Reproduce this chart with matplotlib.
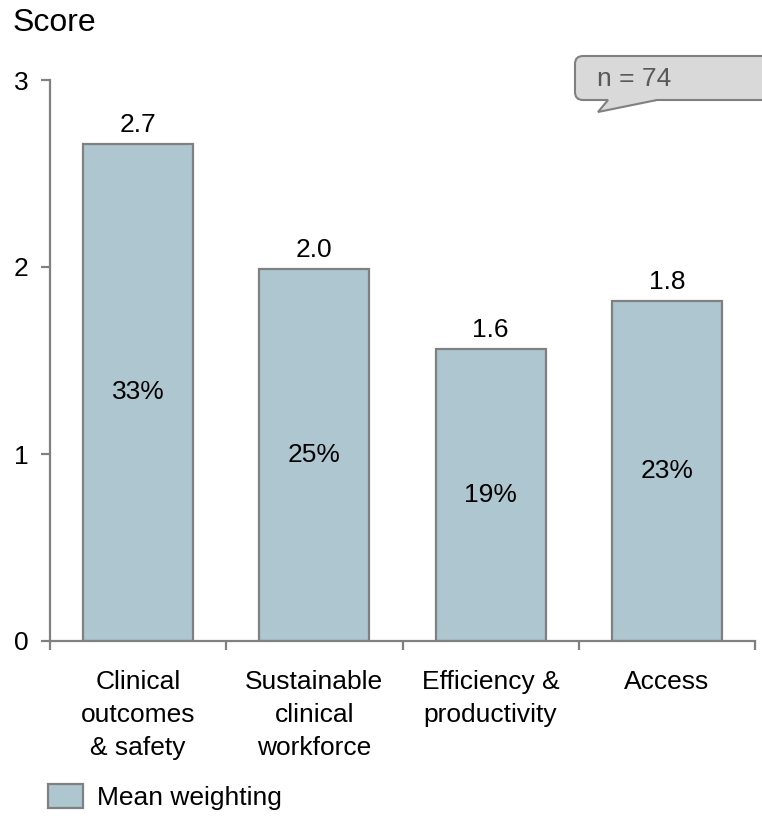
import matplotlib.pyplot as plt
import numpy as np
from matplotlib.path import Path
from matplotlib.patches import PathPatch

plt.rcParams['font.family'] = ['Liberation Sans', 'DejaVu Sans']

categories = ['Clinical\noutcomes\n& safety', 'Sustainable\nclinical\nworkforce',
              'Efficiency &\nproductivity', 'Access']
scores = [2.66, 1.99, 1.56, 1.82]
score_labels = ['2.7', '2.0', '1.6', '1.8']
shares = ['33%', '25%', '19%', '23%']
legend_label = 'Mean weighting'
n_text = 'n = 74'

W, H = 762, 816
fig = plt.figure(figsize=(W / 100, H / 100), dpi=100)
ax = fig.add_axes([50 / W, 1 - 641 / H, 705 / W, 561 / H])

grey = '#808080'
barcol = '#aec6cf'
fs = 19

x = np.arange(len(categories))
bars = ax.bar(x, scores, width=0.625, color=barcol, edgecolor=grey, linewidth=1.6,
              label=legend_label)

for xi, s, lab, pct in zip(x, scores, score_labels, shares):
    ax.annotate(lab, (xi, s), xytext=(0, 5), textcoords='offset points',
                ha='center', va='bottom', fontsize=fs)
    ax.text(xi, s / 2, pct, ha='center', va='center', fontsize=fs)

ax.set_xlim(-0.5, 3.5)
ax.set_ylim(0, 3)
ax.set_yticks([0, 1, 2, 3])
ax.set_xticks(x)
ax.set_xticklabels(categories, fontsize=fs, linespacing=1.47)
ax.set_xticks(np.arange(-0.5, 4, 1), minor=True)
ax.tick_params(axis='x', which='major', length=0, pad=21)
ax.tick_params(axis='x', which='minor', length=6.5, width=1.6, color=grey, direction='out')
ax.tick_params(axis='y', length=6.5, width=1.6, color=grey, labelsize=fs, pad=9)
for side in ['top', 'right']:
    ax.spines[side].set_visible(False)
for side in ['left', 'bottom']:
    ax.spines[side].set_color(grey)
    ax.spines[side].set_linewidth(1.6)
ax.spines['bottom'].set_bounds(-0.5, 3.5)

fig.text(13 / W, 1 - 23 / H, 'Score', fontsize=23, va='center', ha='left')

fig.legend(loc='center left', bbox_to_anchor=(48 / W, 1 - 797 / H), frameon=False,
           fontsize=fs, handlelength=1.33, handleheight=1.0, handletextpad=0.53,
           borderpad=0, borderaxespad=0)

# speech-bubble callout with n
def px(xp, yp):
    return (xp / W, 1 - yp / H)

l, t, b, r, rad = 575, 56, 100, 775, 8
verts = [px(l + rad, t), px(r, t), px(r, b), px(657, b), px(598, 112), px(608, b),
         px(l + rad, b), px(l, b), px(l, b - rad), px(l, t + rad), px(l, t), px(l + rad, t)]
codes = [Path.MOVETO, Path.LINETO, Path.LINETO, Path.LINETO, Path.LINETO, Path.LINETO,
         Path.LINETO, Path.CURVE3, Path.CURVE3, Path.LINETO, Path.CURVE3, Path.CURVE3]
fig.patches.append(PathPatch(Path(verts, codes), transform=fig.transFigure,
                             facecolor='#d9d9d9', edgecolor=grey, linewidth=1.5))
fig.text(597 / W, 1 - 79 / H, n_text, fontsize=fs, color='#595959', va='center', ha='left')

fig.savefig('out.png', dpi=100)
